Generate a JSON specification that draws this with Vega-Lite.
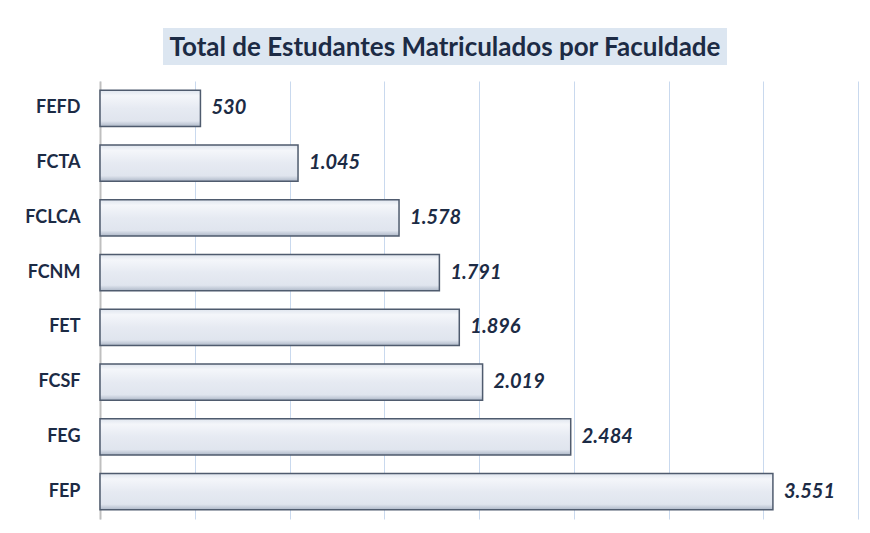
{
  "$schema": "https://vega.github.io/schema/vega-lite/v6.json",
  "background": "white",
  "padding": {"left": 24, "top": 28, "right": 5, "bottom": 5},
  "config": {
    "locale": {"number": {"decimal": ",", "thousands": ".", "grouping": [3], "currency": ["", ""]}},
    "concat": {"spacing": 16}
  },
  "vconcat": [
    {
      "spacing": 16,
      "hconcat": [
        {
          "width": 47,
          "height": 37,
          "view": {"stroke": null},
          "data": {"values": []},
          "mark": {"type": "point", "opacity": 0},
          "encoding": {}
        },
        {
          "width": 564,
          "height": 37,
          "view": {"fill": "#dce6f1", "stroke": null},
          "data": {"values": [{"t": "Total de Estudantes Matriculados por Faculdade"}]},
          "mark": {"type": "text", "font": "Lato", "fontWeight": "bold", "fontSize": 26, "color": "#1c2b45", "baseline": "middle", "align": "center", "dy": 1},
          "encoding": {"text": {"field": "t"}}
        }
      ]
    },
    {
      "width": 758,
      "height": 438,
      "view": {"stroke": null},
      "data": {"values": [
        {"faculdade": "FEFD", "total": 530},
        {"faculdade": "FCTA", "total": 1045},
        {"faculdade": "FCLCA", "total": 1578},
        {"faculdade": "FCNM", "total": 1791},
        {"faculdade": "FET", "total": 1896},
        {"faculdade": "FCSF", "total": 2019},
        {"faculdade": "FEG", "total": 2484},
        {"faculdade": "FEP", "total": 3551}
      ]},
      "encoding": {
        "y": {"field": "faculdade", "type": "nominal", "sort": null, "title": null,
          "scale": {"paddingInner": 0.34, "paddingOuter": 0.17},
          "axis": {"ticks": false, "domain": true, "domainColor": "#bfbfbf", "domainWidth": 2, "labelFont": "Lato", "labelFontWeight": "bold", "labelFontSize": 18, "labelColor": "#1c2b45", "labelPadding": 20}},
        "x": {"field": "total", "type": "quantitative", "title": null,
          "scale": {"domain": [0, 4000], "nice": false},
          "axis": {"values": [0, 500, 1000, 1500, 2000, 2500, 3000, 3500, 4000], "labels": false, "ticks": false, "domain": false, "grid": true, "gridColor": "#c9d9ee", "gridWidth": 1}}
      },
      "layer": [
        {
          "mark": {"type": "bar", "stroke": "#4f5b6e", "strokeWidth": 1.5,
            "color": {"gradient": "linear", "x1": 0, "y1": 0, "x2": 0, "y2": 1,
              "stops": [
                {"offset": 0, "color": "#dfe5ee"},
                {"offset": 0.15, "color": "#f4f6fa"},
                {"offset": 0.5, "color": "#e6eaf2"},
                {"offset": 0.85, "color": "#e0e5ee"},
                {"offset": 1, "color": "#aeb8c8"}
              ]}}
        },
        {
          "mark": {"type": "text", "align": "left", "dx": 11, "baseline": "middle", "font": "Lato", "fontWeight": "bold", "fontStyle": "italic", "fontSize": 20, "color": "#1c2b45"},
          "encoding": {"text": {"field": "total", "type": "quantitative", "format": ",d"}}
        }
      ]
    }
  ]
}
